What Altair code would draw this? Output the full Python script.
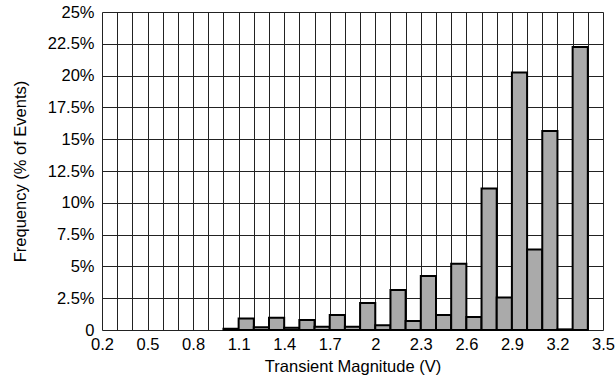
import altair as alt
import pandas as pd

# Histogram bins (V) and share of events in each bin (%)
bin_start = [1.0, 1.1, 1.2, 1.3, 1.4, 1.5, 1.6, 1.7, 1.8, 1.9, 2.0, 2.1, 2.2,
             2.3, 2.4, 2.5, 2.6, 2.7, 2.8, 2.9, 3.0, 3.1, 3.2, 3.3]
frequency = [0.1, 0.9, 0.22, 0.97, 0.18, 0.78, 0.26, 1.17, 0.25, 2.13, 0.37, 3.15, 0.7,
             4.25, 1.17, 5.2, 1.03, 11.13, 2.55, 20.25, 6.33, 15.65, 0.05, 22.25]
bin_width = 0.1

x_grid = [round(0.2 + 0.1 * i, 1) for i in range(34)]
y_ticks = [0, 2.5, 5, 7.5, 10, 12.5, 15, 17.5, 20, 22.5, 25]

df = pd.DataFrame({
    "start": bin_start,
    "end": [round(s + bin_width, 2) for s in bin_start],
    "freq": frequency,
})

FONT = "Liberation Sans"
FS = 16.5

x_axis = alt.Axis(
    values=x_grid,
    labelExpr="round((datum.value - 0.2) * 10) % 3 == 0 ? format(datum.value, '~g') : ''",
    grid=True, gridColor="#222222", gridWidth=1,
    ticks=False, domain=False, labelPadding=6, labelFlush=False, labelOverlap=False,
    labelFontSize=FS, labelColor="black", labelFont=FONT,
    title="Transient Magnitude (V)", titleFontSize=FS, titleFontWeight="normal",
    titleFont=FONT, titleColor="black", titlePadding=6,
)
y_axis = alt.Axis(
    values=y_ticks,
    labelExpr="datum.value == 0 ? '0' : format(datum.value, '~g') + '%'",
    grid=True, gridColor="#222222", gridWidth=1,
    ticks=False, domain=False, labelPadding=8, labelFlush=False, labelOverlap=False,
    labelFontSize=FS, labelColor="black", labelFont=FONT,
    title="Frequency (% of Events)", titleFontSize=FS, titleFontWeight="normal",
    titleFont=FONT, titleColor="black", titlePadding=19,
)

chart = alt.Chart(df).mark_rect(
    fill="#aaaaaa", stroke="black", strokeWidth=2
).encode(
    x=alt.X("start:Q", scale=alt.Scale(domain=[0.2, 3.5], nice=False, zero=False), axis=x_axis),
    x2="end:Q",
    y=alt.Y("freq:Q", scale=alt.Scale(domain=[0, 25], nice=False), axis=y_axis),
    y2=alt.datum(0),
).properties(
    width=501, height=318,
    autosize=alt.AutoSizeParams(type="none"),
    padding={"left": 102, "top": 12, "right": 13, "bottom": 51},
).configure_view(
    stroke="black", strokeWidth=2.5
).configure(background="white")

chart.save("out.html", embed_options={"renderer": "svg", "actions": False})
